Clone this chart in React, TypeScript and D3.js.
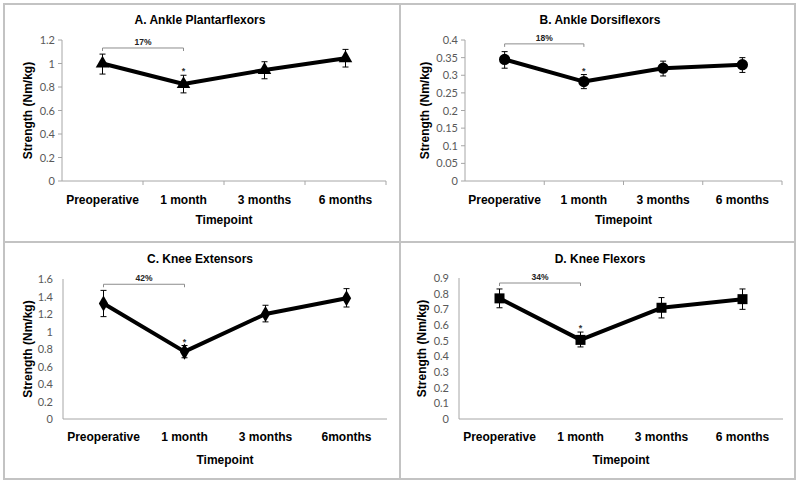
import React from "react";
import * as d3 from "d3";

const categoriesABD = ["Preoperative", "1 month", "3 months", "6 months"];
const categoriesC = ["Preoperative", "1 month", "3 months", "6months"];

const titles = ["A. Ankle Plantarflexors", "B. Ankle Dorsiflexors", "C. Knee Extensors", "D. Knee Flexors"];

const meanA = [1.0, 0.825, 0.945, 1.045];
const lowA = [0.91, 0.75, 0.87, 0.97];
const highA = [1.08, 0.9, 1.015, 1.12];

const meanB = [0.345, 0.282, 0.32, 0.33];
const lowB = [0.32, 0.262, 0.298, 0.308];
const highB = [0.367, 0.302, 0.34, 0.35];

const meanC = [1.32, 0.77, 1.2, 1.38];
const lowC = [1.17, 0.7, 1.11, 1.28];
const highC = [1.47, 0.84, 1.3, 1.49];

const meanD = [0.77, 0.505, 0.71, 0.765];
const lowD = [0.71, 0.46, 0.645, 0.7];
const highD = [0.83, 0.555, 0.775, 0.83];

const yMax = [1.2, 0.4, 1.6, 0.9];
const yStep = [0.2, 0.05, 0.2, 0.1];
const percentLabels = ["17%", "18%", "42%", "34%"];
const bracketValues = [1.132, 0.389, 1.54, 0.868];
const markerShapes = ["triangle", "circle", "diamond", "square"];

type Layout = { ox: number; oy: number; x0: number; x1: number; yTop: number; yBot: number; ylabX: number; ticks: boolean; titleY: number; catY: number; tpY: number };

const layouts: Layout[] = [
  { ox: 0, oy: 0, x0: 62, x1: 386, yTop: 40, yBot: 181, ylabX: 28, ticks: true, titleY: 24, catY: 204, tpY: 224 },
  { ox: 400, oy: 0, x0: 65, x1: 382, yTop: 40, yBot: 181, ylabX: 25, ticks: true, titleY: 24, catY: 204, tpY: 224 },
  { ox: 0, oy: 242, x0: 63, x1: 387, yTop: 37, yBot: 177, ylabX: 28, ticks: false, titleY: 21, catY: 199, tpY: 222 },
  { ox: 400, oy: 242, x0: 59, x1: 383, yTop: 36, yBot: 177, ylabX: 22, ticks: false, titleY: 21, catY: 199, tpY: 222 },
];

const axisColor = "#a6a6a6";
const boldFont = "'Liberation Sans', Arial, sans-serif";
const tickFont = "Lato, 'Open Sans', sans-serif";

function Marker({ shape, x, y }: { shape: string; x: number; y: number }) {
  const symType =
    shape === "triangle" ? d3.symbolTriangle : shape === "circle" ? d3.symbolCircle : shape === "diamond" ? d3.symbolDiamond : d3.symbolSquare;
  const size = shape === "triangle" ? 80 : shape === "circle" ? 100 : shape === "diamond" ? 75 : 100;
  const p = d3.symbol().type(symType).size(size)() as string;
  return <path d={p} transform={`translate(${x},${y})`} fill="#000" />;
}

function Panel({ idx, means, lows, highs, cats }: { idx: number; means: number[]; lows: number[]; highs: number[]; cats: string[] }) {
  const L = layouts[idx];
  const x = d3.scaleBand<string>().domain(cats).range([L.x0, L.x1]);
  const y = d3.scaleLinear().domain([0, yMax[idx]]).range([L.yBot, L.yTop]);
  const nTicks = Math.round(yMax[idx] / yStep[idx]);
  const tickVals = d3.range(nTicks + 1).map((i) => +(i * yStep[idx]).toFixed(3));
  const cx = (c: string) => (x(c) as number) + x.bandwidth() / 2;
  const line = d3
    .line<number>()
    .x((_, i) => cx(cats[i]))
    .y((d) => y(d));
  const bx0 = cx(cats[0]);
  const bx1 = cx(cats[1]);
  const by = y(bracketValues[idx]);
  const plotMidY = (L.yTop + L.yBot) / 2;
  const fmt = (v: number) => String(+v.toFixed(2));
  return (
    <g transform={`translate(${L.ox},${L.oy})`}>
      <text x={200} y={L.titleY} textAnchor="middle" fontFamily={boldFont} fontWeight="bold" fontSize={12} fill="#000">
        {titles[idx]}
      </text>
      {/* y axis */}
      <line x1={L.x0} x2={L.x0} y1={L.yTop} y2={L.yBot} stroke={axisColor} strokeWidth={1} />
      {tickVals.map((v) => (
        <g key={v}>
          {L.ticks && <line x1={L.x0 - 4} x2={L.x0} y1={y(v)} y2={y(v)} stroke={axisColor} />}
          <text x={L.x0 - (L.ticks ? 7 : 10)} y={y(v) + 4} textAnchor="end" fontFamily={tickFont} fontSize={11} fill="#595959">
            {fmt(v)}
          </text>
        </g>
      ))}
      {/* x axis */}
      <line x1={L.x0} x2={L.x1} y1={L.yBot} y2={L.yBot} stroke={axisColor} strokeWidth={1} />
      {L.ticks &&
        cats.map((c) => (
          <line key={c} x1={(x(c) as number) + x.bandwidth()} x2={(x(c) as number) + x.bandwidth()} y1={L.yBot} y2={L.yBot + 4} stroke={axisColor} />
        ))}
      {cats.map((c) => (
        <text key={c} x={cx(c)} y={L.catY} textAnchor="middle" fontFamily={boldFont} fontWeight="bold" fontSize={12} fill="#000">
          {c}
        </text>
      ))}
      <text x={(L.x0 + L.x1) / 2} y={L.tpY} textAnchor="middle" fontFamily={boldFont} fontWeight="bold" fontSize={12} fill="#000">
        Timepoint
      </text>
      <text
        transform={`translate(${L.ylabX + 4},${plotMidY}) rotate(-90)`}
        textAnchor="middle"
        fontFamily={boldFont}
        fontWeight="bold"
        fontSize={12}
        fill="#000"
      >
        Strength (Nm/kg)
      </text>
      {/* bracket */}
      <path d={`M${bx0},${by + 3}V${by}H${bx1}V${by + 3}`} fill="none" stroke="#8c8c8c" strokeWidth={1} />
      <text x={(bx0 + bx1) / 2} y={by - 3} textAnchor="middle" fontFamily={boldFont} fontWeight="bold" fontSize={8.5} fill="#222">
        {percentLabels[idx]}
      </text>
      {/* error bars */}
      {cats.map((c, i) => (
        <g key={"e" + c} stroke="#000" strokeWidth={1}>
          <line x1={cx(c)} x2={cx(c)} y1={y(lows[i])} y2={y(highs[i])} />
          <line x1={cx(c) - 3} x2={cx(c) + 3} y1={y(lows[i])} y2={y(lows[i])} />
          <line x1={cx(c) - 3} x2={cx(c) + 3} y1={y(highs[i])} y2={y(highs[i])} />
        </g>
      ))}
      <path d={line(means) as string} fill="none" stroke="#000" strokeWidth={4} strokeLinejoin="round" />
      {cats.map((c, i) => (
        <Marker key={"m" + c} shape={markerShapes[idx]} x={cx(c)} y={y(means[i])} />
      ))}
      <text x={cx(cats[1])} y={y(highs[1]) - 1} textAnchor="middle" fontFamily={boldFont} fontWeight="bold" fontSize={9} fill="#333">
        *
      </text>
    </g>
  );
}

export default function App() {
  return (
    <svg width={800} height={484} style={{ position: "absolute", left: 0, top: 0, background: "#fff" }}>
      <rect x={0} y={0} width={800} height={484} fill="#fff" />
      <rect x={4} y={4} width={791} height={475} fill="none" stroke="#c3c3c3" strokeWidth={2} />
      <line x1={400} x2={400} y1={4} y2={479} stroke="#c3c3c3" strokeWidth={2} />
      <line x1={4} x2={795} y1={242} y2={242} stroke="#c3c3c3" strokeWidth={2} />
      <Panel idx={0} means={meanA} lows={lowA} highs={highA} cats={categoriesABD} />
      <Panel idx={1} means={meanB} lows={lowB} highs={highB} cats={categoriesABD} />
      <Panel idx={2} means={meanC} lows={lowC} highs={highC} cats={categoriesC} />
      <Panel idx={3} means={meanD} lows={lowD} highs={highD} cats={categoriesABD} />
    </svg>
  );
}
